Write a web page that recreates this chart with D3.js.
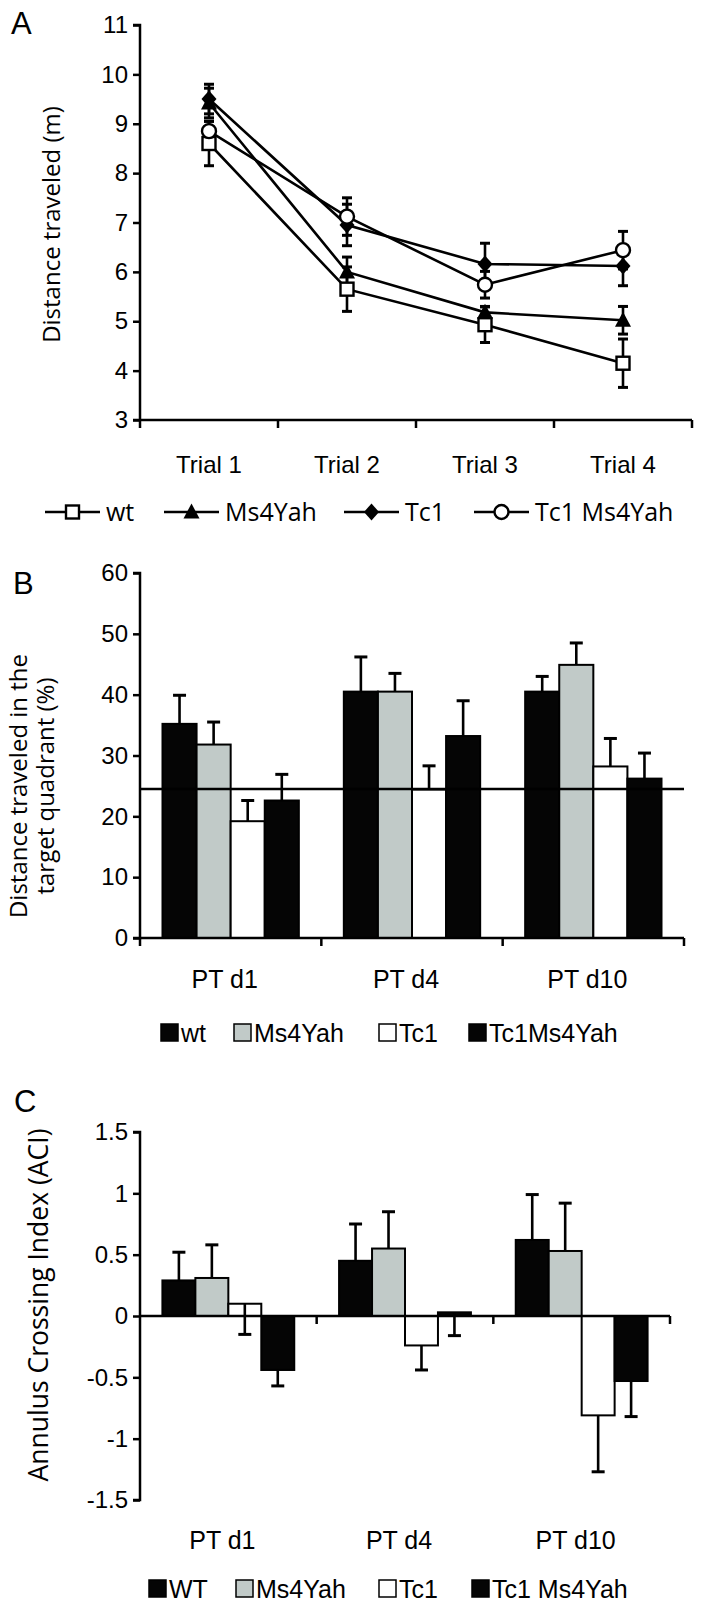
<!DOCTYPE html>
<html><head><meta charset="utf-8">
<script src="https://cdn.jsdelivr.net/npm/d3@7"></script>
<style>
html,body{margin:0;padding:0;background:#fff;}
svg{display:block;}
</style></head>
<body>
<svg id="chart" width="708" height="1604"></svg>
<script>
// ---------- Panel A data ----------
const trials = ["Trial 1", "Trial 2", "Trial 3", "Trial 4"];
const seriesA = ["wt", "Ms4Yah", "Tc1", "Tc1 Ms4Yah"];
const wtA = [8.60, 5.65, 4.93, 4.15];
const wtAErr = [0.45, 0.45, 0.36, 0.49];
const ms4yahA = [9.42, 6.00, 5.18, 5.02];
const ms4yahAErr = [0.30, 0.30, 0.12, 0.28];
const tc1A = [9.50, 6.95, 6.16, 6.12];
const tc1AErr = [0.30, 0.42, 0.42, 0.40];
const tc1ms4yahA = [8.85, 7.12, 5.74, 6.44];
const tc1ms4yahAErr = [0.20, 0.38, 0.27, 0.38];
const yTicksA = [3, 4, 5, 6, 7, 8, 9, 10, 11];

// ---------- Panel B data ----------
const probeTests = ["PT d1", "PT d4", "PT d10"];
const seriesB = ["wt", "Ms4Yah", "Tc1", "Tc1Ms4Yah"];
const wtB = [35.2, 40.5, 40.5];
const wtBErr = [4.7, 5.7, 2.5];
const ms4yahB = [31.8, 40.5, 44.9];
const ms4yahBErr = [3.7, 3.0, 3.6];
const tc1B = [19.2, 24.4, 28.2];
const tc1BErr = [3.4, 3.9, 4.6];
const tc1ms4yahB = [22.6, 33.2, 26.2];
const tc1ms4yahBErr = [4.3, 5.8, 4.2];
const chanceB = 24.5;
const yTicksB = [0, 10, 20, 30, 40, 50, 60];

// ---------- Panel C data (signed error: + up, - down) ----------
const seriesC = ["WT", "Ms4Yah", "Tc1", "Tc1 Ms4Yah"];
const wtC = [0.29, 0.45, 0.62];
const wtCErr = [0.23, 0.30, 0.37];
const ms4yahC = [0.31, 0.55, 0.53];
const ms4yahCErr = [0.27, 0.30, 0.39];
const tc1C = [0.10, -0.24, -0.81];
const tc1CErr = [-0.25, -0.20, -0.46];
const tc1ms4yahC = [-0.44, 0.03, -0.53];
const tc1ms4yahCErr = [-0.13, -0.19, -0.29];
const yTicksC = [-1.5, -1, -0.5, 0, 0.5, 1, 1.5];

const barFills = ["#050505", "#c1cac8", "#ffffff", "#050505"];

const svg = d3.select("#chart");
const AX = 2.5;
const tickFont = "'Liberation Sans', Arial, sans-serif";
const labelFont = "'Open Sans', 'Noto Sans', sans-serif";

function panelLetter(t, x, y) {
  svg.append("text").attr("x", x).attr("y", y).text(t)
    .attr("font-family", tickFont).attr("font-size", 31).attr("fill", "#000");
}

function yAxis(g, scale, ticks, x0) {
  const ax = d3.axisLeft(scale).tickValues(ticks).tickSize(7).tickPadding(5)
    .tickFormat(d => String(d));
  const a = g.append("g").attr("transform", `translate(${x0},0)`).call(ax);
  a.select(".domain").attr("stroke", "#000").attr("stroke-width", AX);
  a.selectAll(".tick line").attr("stroke", "#000").attr("stroke-width", AX);
  a.selectAll(".tick text").attr("font-family", tickFont).attr("font-size", 24).attr("fill", "#000");
  return a;
}

// ================= Panel A =================
(function () {
  const x0 = 140, x1 = 692, yTop = 25, yBot = 420;
  const g = svg.append("g");
  const xb = d3.scaleBand().domain(trials).range([x0, x1]);
  const xc = d => xb(d) + xb.bandwidth() / 2;
  const y = d3.scaleLinear().domain([3, 11]).range([yBot, yTop]);

  panelLetter("A", 11, 34);

  const ya = yAxis(g, y, yTicksA, x0);
  ya.select(".domain").attr("d", `M-7,${yTop}H0V${yBot}`);
  g.append("line").attr("x1", x0 - 7).attr("x2", x1).attr("y1", yBot).attr("y2", yBot)
    .attr("stroke", "#000").attr("stroke-width", AX);
  const bounds = trials.map(t => xb(t)).concat([x1]);
  g.selectAll(".xtA").data(bounds).join("line")
    .attr("x1", d => d).attr("x2", d => d).attr("y1", yBot).attr("y2", yBot + 8)
    .attr("stroke", "#000").attr("stroke-width", AX);
  g.selectAll(".xlA").data(trials).join("text")
    .attr("x", d => xc(d)).attr("y", yBot + 53).attr("text-anchor", "middle")
    .attr("font-family", tickFont).attr("font-size", 24).text(d => d);

  g.append("text").attr("transform", `translate(60,${(yTop + yBot) / 2 + 2}) rotate(-90)`)
    .attr("text-anchor", "middle").attr("font-family", labelFont).attr("font-size", 24)
    .text("Distance traveled (m)");

  const vals = [wtA, ms4yahA, tc1A, tc1ms4yahA];
  const errs = [wtAErr, ms4yahAErr, tc1AErr, tc1ms4yahAErr];
  const line = d3.line().x((d, i) => xc(trials[i])).y(d => y(d));
  vals.forEach(v => {
    g.append("path").attr("d", line(v)).attr("fill", "none")
      .attr("stroke", "#000").attr("stroke-width", 2.6);
  });
  vals.forEach((v, s) => {
    v.forEach((m, i) => {
      const cx = xc(trials[i]), e = errs[s][i];
      g.append("line").attr("x1", cx).attr("x2", cx).attr("y1", y(m - e)).attr("y2", y(m + e))
        .attr("stroke", "#000").attr("stroke-width", 2.6);
      [m - e, m + e].forEach(b => {
        g.append("line").attr("x1", cx - 5).attr("x2", cx + 5).attr("y1", y(b)).attr("y2", y(b))
          .attr("stroke", "#000").attr("stroke-width", 3);
      });
    });
  });
  function marker(sel, s, cx, cy) {
    if (s === 0) {
      sel.append("rect").attr("x", cx - 6.5).attr("y", cy - 6.5).attr("width", 13).attr("height", 13)
        .attr("fill", "#fff").attr("stroke", "#000").attr("stroke-width", 2.4);
    } else if (s === 1) {
      sel.append("path").attr("d", `M${cx},${cy - 8.5}L${cx + 8},${cy + 6.5}L${cx - 8},${cy + 6.5}Z`)
        .attr("fill", "#000");
    } else if (s === 2) {
      sel.append("path").attr("d", `M${cx},${cy - 8.5}L${cx + 7.5},${cy}L${cx},${cy + 8.5}L${cx - 7.5},${cy}Z`)
        .attr("fill", "#000");
    } else {
      sel.append("circle").attr("cx", cx).attr("cy", cy).attr("r", 7)
        .attr("fill", "#fff").attr("stroke", "#000").attr("stroke-width", 2.4);
    }
  }
  vals.forEach((v, s) => v.forEach((m, i) => marker(g, s, xc(trials[i]), y(m))));

  const legX = [45, 164, 344, 474];
  const legY = 512;
  seriesA.forEach((name, s) => {
    const lx = legX[s];
    g.append("line").attr("x1", lx).attr("x2", lx + 55).attr("y1", legY).attr("y2", legY)
      .attr("stroke", "#000").attr("stroke-width", 2.6);
    marker(g, s, lx + 27.5, legY);
    g.append("text").attr("x", lx + 61).attr("y", legY + 9).attr("font-family", labelFont)
      .attr("font-size", 25).text(name);
  });
})();

// ============ Bar panel helper ============
function barPanel(opt) {
  const g = svg.append("g");
  const xg = d3.scaleBand().domain(probeTests).range([opt.x0, opt.x1]);
  const xs = d3.scaleBand().domain(opt.series).range([0, xg.bandwidth()])
    .paddingInner(0).paddingOuter(opt.padOuter);
  const y = d3.scaleLinear().domain(opt.domain).range([opt.yBot, opt.yTop]);
  const base = y(opt.baseVal);

  panelLetter(opt.letter, opt.letterX, opt.letterY);

  opt.values.forEach((v, s) => {
    v.forEach((m, i) => {
      const bx = xg(probeTests[i]) + xs(opt.series[s]);
      g.append("rect").attr("x", bx).attr("width", xs.bandwidth())
        .attr("y", Math.min(y(m), base)).attr("height", Math.abs(y(m) - base))
        .attr("fill", barFills[s]).attr("stroke", "#000").attr("stroke-width", 2);
    });
  });
  opt.values.forEach((v, s) => {
    v.forEach((m, i) => {
      const cx = xg(probeTests[i]) + xs(opt.series[s]) + xs.bandwidth() / 2;
      const e = opt.errors[s][i];
      g.append("line").attr("x1", cx).attr("x2", cx).attr("y1", y(m)).attr("y2", y(m + e))
        .attr("stroke", "#000").attr("stroke-width", 2.6);
      g.append("line").attr("x1", cx - 6.5).attr("x2", cx + 6.5).attr("y1", y(m + e)).attr("y2", y(m + e))
        .attr("stroke", "#000").attr("stroke-width", 3);
    });
  });

  const ya = yAxis(g, y, opt.ticks, opt.x0);
  ya.select(".domain").attr("d", `M-7,${opt.yTop}H0V${opt.yBot}H-7`);
  g.append("line").attr("x1", opt.x0).attr("x2", opt.x1).attr("y1", base).attr("y2", base)
    .attr("stroke", "#000").attr("stroke-width", AX);
  const bounds = (opt.firstTick ? [opt.x0] : []).concat(probeTests.slice(1).map(t => xg(t))).concat([opt.x1]);
  g.selectAll(null).data(bounds).join("line")
    .attr("x1", d => d).attr("x2", d => d).attr("y1", base).attr("y2", base + 8)
    .attr("stroke", "#000").attr("stroke-width", AX);
  g.selectAll(null).data(probeTests).join("text")
    .attr("x", d => xg(d) + xg.bandwidth() / 2 - 6).attr("y", opt.catY)
    .attr("text-anchor", "middle").attr("font-family", tickFont).attr("font-size", 25).text(d => d);

  if (opt.after) opt.after(g, y);

  opt.ylabel.forEach((t, k) => {
    g.append("text").attr("transform", `translate(${opt.ylabelX[k]},${opt.ylabelY}) rotate(-90)`)
      .attr("text-anchor", "middle").attr("font-family", labelFont).attr("font-size", opt.ylabelSize)
      .text(t);
  });

  opt.series.forEach((name, s) => {
    const lx = opt.legX[s];
    g.append("rect").attr("x", lx).attr("y", opt.legY - 9).attr("width", 17).attr("height", 17)
      .attr("fill", barFills[s]).attr("stroke", "#000").attr("stroke-width", 1.5);
    g.append("text").attr("x", lx + 20).attr("y", opt.legY + 9).attr("font-family", tickFont)
      .attr("font-size", 25).text(name);
  });
}

// ================= Panel B =================
barPanel({
  letter: "B", letterX: 13, letterY: 594,
  series: seriesB,
  values: [wtB, ms4yahB, tc1B, tc1ms4yahB],
  errors: [wtBErr, ms4yahBErr, tc1BErr, tc1ms4yahBErr],
  x0: 140, x1: 684, yTop: 573, yBot: 938, domain: [0, 60], baseVal: 0,
  padOuter: 0.66, ticks: yTicksB, firstTick: true, catY: 988,
  ylabel: ["Distance traveled in the", "target quadrant (%)"], ylabelX: [27, 54], ylabelY: 786, ylabelSize: 24,
  legX: [161, 234, 379, 469], legY: 1033,
  after: (g, y) => {
    g.append("line").attr("x1", 140).attr("x2", 684).attr("y1", y(chanceB)).attr("y2", y(chanceB))
      .attr("stroke", "#000").attr("stroke-width", 2.6);
  }
});

// ================= Panel C =================
barPanel({
  letter: "C", letterX: 14, letterY: 1112,
  series: seriesC,
  values: [wtC, ms4yahC, tc1C, tc1ms4yahC],
  errors: [wtCErr, ms4yahCErr, tc1CErr, tc1ms4yahCErr],
  x0: 140, x1: 670, yTop: 1132, yBot: 1500, domain: [-1.5, 1.5], baseVal: 0,
  padOuter: 0.68, ticks: yTicksC, firstTick: false, catY: 1549,
  ylabel: ["Annulus Crossing Index (ACI)"], ylabelX: [48], ylabelY: 1305, ylabelSize: 26.5,
  legX: [149, 236, 379, 472], legY: 1589
});
</script>
</body></html>
